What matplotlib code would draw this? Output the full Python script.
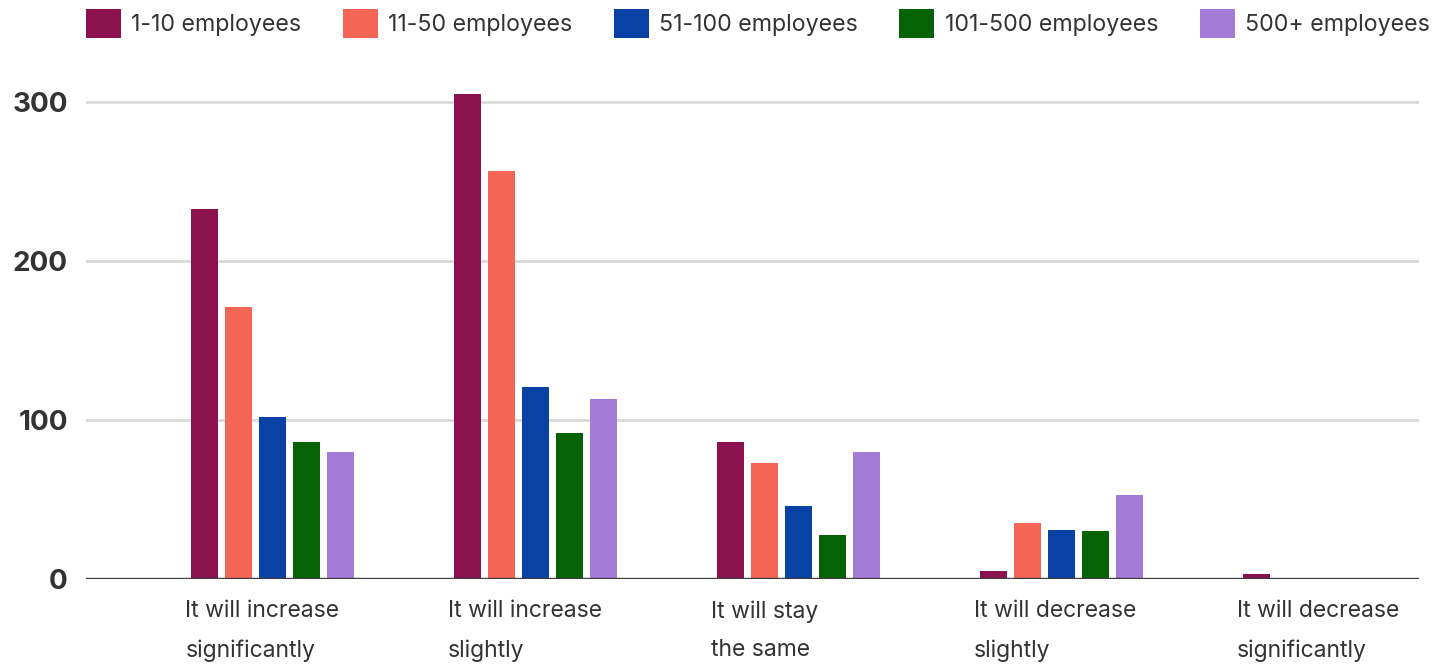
import numpy as np
import matplotlib.pyplot as plt

plt.rcParams['font.family'] = ['Inter', 'DejaVu Sans']

categories = ["It will increase\nsignificantly", "It will increase\nslightly",
              "It will stay\nthe same", "It will decrease\nslightly",
              "It will decrease\nsignificantly"]
series = ["1-10 employees", "11-50 employees", "51-100 employees",
          "101-500 employees", "500+ employees"]
emp_1_10 = [233, 305, 86, 5, 3]
emp_11_50 = [171, 257, 73, 35, 0]
emp_51_100 = [102, 121, 46, 31, 0]
emp_101_500 = [86, 92, 28, 30, 0]
emp_500_plus = [80, 113, 80, 53, 0]
colors = ["#8b124e", "#f46556", "#0a41a5", "#056305", "#a57bd8"]

values = [emp_1_10, emp_11_50, emp_51_100, emp_101_500, emp_500_plus]

fig = plt.figure(figsize=(14.39, 6.65), dpi=100)
ax = fig.add_axes([0.0598, 0.1293, 0.9262, 0.7504])

x = np.arange(len(categories))
step = 0.129
width = 0.103
for i, (name, vals, c) in enumerate(zip(series, values, colors)):
    ax.bar(x + (i - 2) * step, vals, width, color=c, label=name, zorder=3)

ax.set_xlim(-0.71, 4.36)
ax.set_ylim(0, 314)
ax.set_yticks([0, 100, 200, 300])
ax.grid(axis='y', color='#d9d9d9', linewidth=2, zorder=0)
ax.axhline(0, color='#3c3c3c', linewidth=2.4, zorder=4)
for s in ax.spines.values():
    s.set_visible(False)
ax.tick_params(axis='y', length=0, pad=13, labelsize=20, labelcolor='#333333')
for lbl in ax.get_yticklabels():
    lbl.set_fontweight('bold')

# category labels, left aligned under each group
ax.set_xticks([])
for xi, cat in zip(x, categories):
    ax.text(xi - 2 * step - width / 2 - 0.023, -13.5, cat, ha='left', va='top',
            fontsize=16.5, color='#333333', linespacing=1.95)

fig.legend(loc='upper left', bbox_to_anchor=(0.0533, 1.0), ncol=5,
           frameon=False, fontsize=16.7, handlelength=1.5, handleheight=1.5,
           handletextpad=0.45, columnspacing=1.79, labelcolor='#333333',
           borderaxespad=0)

fig.savefig("out.png", dpi=100)
